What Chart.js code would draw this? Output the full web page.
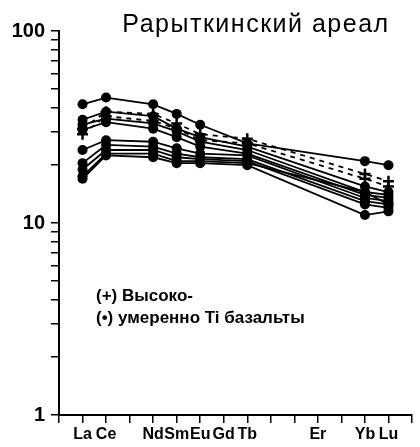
<!DOCTYPE html>
<html>
<head>
<meta charset="utf-8">
<script src="https://cdn.jsdelivr.net/npm/chart.js@4"></script>
<style>html,body{margin:0;padding:0;background:#fff}</style>
</head>
<body>
<canvas id="myChart" width="420" height="447"></canvas>
<script>
// REE row, La..Lu (positions 1..14 on the x axis)
const elements = ['La', 'Ce', 'Pr', 'Nd', 'Sm', 'Eu', 'Gd', 'Tb', 'Dy', 'Ho', 'Er', 'Tm', 'Yb', 'Lu'];
const tickLabels = ['La', 'Ce', '', 'Nd', 'Sm', 'Eu', 'Gd', 'Tb', '', '', 'Er', '', 'Yb', 'Lu'];
const analysed = ['La', 'Ce', 'Nd', 'Sm', 'Eu', 'Tb', 'Yb', 'Lu'];
const yTickLabels = [1, 10, 100];

// (+) high-Ti basalts
const highTi = [
    [31, 38, 37, 33, 29, 27.5, 18, 16.5],
    [29, 36, 34, 31, 27, 26, 17, 15.5]
];

// (•) moderate-Ti basalts
const modTi = [
    [41.5, 45, 41.5, 37, 32.5, 26, 21, 20],
    [34.5, 38, 36, 31, 28, 25, 15.5, 14.5],
    [32.5, 35, 33, 30, 26.5, 24, 14.5, 14],
    [30.5, 33.5, 31, 28, 25, 23, 14, 13.5],
    [24, 27, 26.5, 24.5, 23, 22.5, 13.5, 13],
    [20.5, 25.5, 25, 23, 22, 21.5, 13, 12.5],
    [19, 24, 24, 22, 21.5, 21, 12.5, 12],
    [17.5, 23, 23, 21, 21, 20.5, 14.5, 12.5],
    [17, 22.5, 22, 20.5, 20.5, 20, 11, 11.5]
];

const xOf = name => elements.indexOf(name) + 1;
const toPoints = vals => vals.map((v, i) => ({ x: xOf(analysed[i]), y: v }));

const datasets = [];
modTi.forEach(s => datasets.push({
    data: toPoints(s),
    borderColor: '#000',
    borderWidth: 1.8,
    pointStyle: 'circle',
    pointRadius: 5,
    pointBackgroundColor: '#000',
    pointBorderColor: '#000',
    pointBorderWidth: 0
}));
highTi.forEach(s => datasets.push({
    data: toPoints(s),
    borderColor: '#000',
    borderWidth: 1.8,
    borderDash: [5, 5],
    pointStyle: 'cross',
    pointRadius: 5.5,
    pointBorderColor: '#000',
    pointBorderWidth: 2.5
}));

const FONT = "'Liberation Sans', Arial, sans-serif";

const texts = {
    id: 'texts',
    afterDraw(chart) {
        const c = chart.ctx;
        c.save();
        c.fillStyle = '#000';
        c.textBaseline = 'alphabetic';
        c.textAlign = 'center';
        c.font = '25px ' + FONT;
        c.letterSpacing = '1.5px';
        c.fillText('Рарыткинский ареал', 256, 32);
        c.letterSpacing = '0px';
        c.textAlign = 'left';
        c.font = 'bold 17px ' + FONT;
        c.fillText('(+) Высоко-', 96, 301);
        c.fillText('(•) умеренно Ti базальты', 96, 323);
        c.restore();
    }
};

new Chart(document.getElementById('myChart'), {
    type: 'line',
    data: { datasets },
    options: {
        responsive: false,
        animation: false,
        layout: { padding: { top: 31, right: 2, left: 0, bottom: 0 } },
        plugins: {
            legend: { display: false },
            tooltip: { enabled: false }
        },
        scales: {
            x: {
                type: 'linear',
                min: 0,
                max: 15,
                afterFit(s) { s.height = 32; },
                afterBuildTicks(s) {
                    s.ticks = [];
                    for (let i = 0; i <= 15; i++) s.ticks.push({ value: i });
                },
                ticks: {
                    autoSkip: false,
                    maxRotation: 0,
                    padding: 2,
                    color: '#000',
                    font: { family: FONT, size: 16, weight: 'bold' },
                    callback: v => tickLabels[v - 1] || ''
                },
                grid: { drawOnChartArea: false, tickLength: 8, color: '#000', lineWidth: 1.5 },
                border: { color: '#000', width: 2 }
            },
            y: {
                type: 'logarithmic',
                min: 1,
                max: 100,
                afterFit(s) { s.width = 59; },
                afterBuildTicks(s) {
                    s.ticks = [];
                    for (let d = 1; d <= 10; d *= 10)
                        for (let k = 1; k <= 9; k++) s.ticks.push({ value: k * d });
                    s.ticks.push({ value: 100 });
                },
                ticks: {
                    autoSkip: false,
                    padding: 6,
                    color: '#000',
                    font: { family: FONT, size: 20, weight: 'bold' },
                    callback: v => yTickLabels.includes(v) ? String(v) : ''
                },
                grid: { drawOnChartArea: false, tickLength: 8, color: '#000', lineWidth: 1.5 },
                border: { color: '#000', width: 2 }
            }
        }
    },
    plugins: [texts]
});
</script>
</body>
</html>
